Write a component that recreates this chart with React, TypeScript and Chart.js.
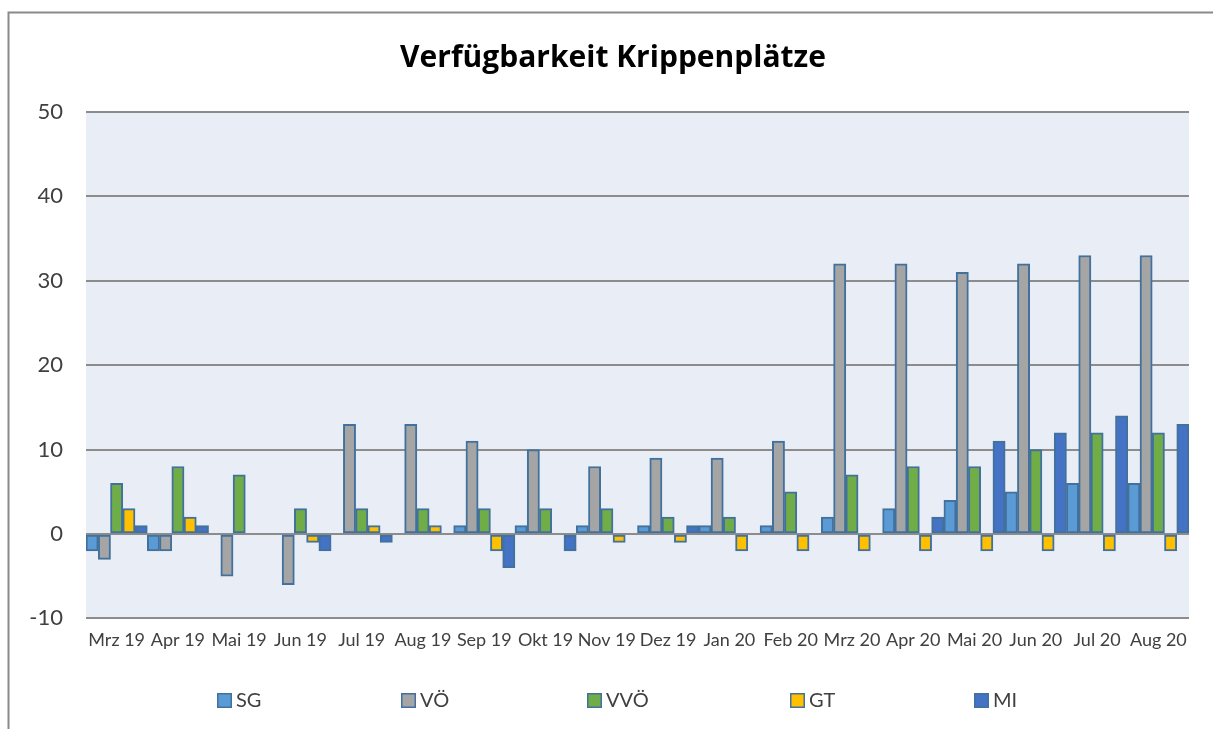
import React, { useEffect, useRef } from "react";
import { Chart, registerables } from "chart.js";

Chart.register(...registerables);

const categories = [
  "Mrz 19", "Apr 19", "Mai 19", "Jun 19", "Jul 19", "Aug 19", "Sep 19", "Okt 19", "Nov 19",
  "Dez 19", "Jan 20", "Feb 20", "Mrz 20", "Apr 20", "Mai 20", "Jun 20", "Jul 20", "Aug 20",
];
const seriesNames = ["SG", "VÖ", "VVÖ", "GT", "MI"];
const sgValues = [-2, -2, 0, 0, 0, 0, 1, 1, 1, 1, 1, 1, 2, 3, 4, 5, 6, 6];
const voValues = [-3, -2, -5, -6, 13, 13, 11, 10, 8, 9, 9, 11, 32, 32, 31, 32, 33, 33];
const vvoValues = [6, 8, 7, 3, 3, 3, 3, 3, 3, 2, 2, 5, 7, 8, 8, 10, 12, 12];
const gtValues = [3, 2, 0, -1, 1, 1, -2, 0, -1, -1, -2, -2, -2, -2, -2, -2, -2, -2];
const miValues = [1, 1, 0, -2, -1, 0, -4, -2, 0, 1, 0, 0, 0, 2, 11, 12, 14, 13];
const seriesColors = ["#5B9BD5", "#A5A5A5", "#70AD47", "#FFC000", "#4472C4"];
const yMin = -10;
const yMax = 50;
const yStep = 10;
const titleText = "Verfügbarkeit Krippenplätze";

const BORDER_COLOR = "#41719C";
const FONT = "Lato";

const frameAndBackground = {
  id: "frameAndBackground",
  beforeDraw(chart: any) {
    const { ctx, chartArea } = chart;
    ctx.save();
    ctx.fillStyle = "#ffffff";
    ctx.fillRect(0, 0, chart.width, chart.height);
    ctx.strokeStyle = "#8a8a8a";
    ctx.lineWidth = 2;
    ctx.beginPath();
    ctx.moveTo(8.5, chart.height + 5);
    ctx.lineTo(8.5, 12.5);
    ctx.lineTo(chart.width + 5, 12.5);
    ctx.stroke();
    ctx.fillStyle = "#E9EEF6";
    ctx.fillRect(chartArea.left, chartArea.top, chartArea.right - chartArea.left, chartArea.bottom - chartArea.top);
    ctx.restore();
  },
};

const chartTitle = {
  id: "chartTitle",
  afterDraw(chart: any) {
    const { ctx } = chart;
    ctx.save();
    ctx.fillStyle = "#000000";
    ctx.font = `bold 30px "Open Sans"`;
    ctx.textAlign = "center";
    ctx.textBaseline = "middle";
    ctx.fillText(titleText, 613, 58);
    ctx.restore();
  },
};

const legendXs = [217, 401, 587, 790, 974];
const customLegend = {
  id: "customLegend",
  afterDraw(chart: any) {
    const { ctx } = chart;
    ctx.save();
    chart.data.datasets.forEach((ds: any, i: number) => {
      const x = legendXs[i];
      const y = 693;
      ctx.fillStyle = ds.backgroundColor;
      ctx.fillRect(x, y, 15, 15);
      ctx.strokeStyle = BORDER_COLOR;
      ctx.lineWidth = 1.5;
      ctx.strokeRect(x + 0.75, y + 0.75, 13.5, 13.5);
      ctx.fillStyle = "#404040";
      ctx.font = `20px ${FONT}`;
      ctx.textBaseline = "middle";
      ctx.textAlign = "left";
      ctx.fillText(ds.label, x + 19, y + 8);
    });
    ctx.restore();
  },
};

export default function App() {
  const canvasRef = useRef<HTMLCanvasElement | null>(null);

  useEffect(() => {
    if (!canvasRef.current) return;
    const allValues = [sgValues, voValues, vvoValues, gtValues, miValues];
    const chart = new Chart(canvasRef.current, {
      type: "bar",
      data: {
        labels: categories,
        datasets: seriesNames.map((name, i) => ({
          label: name,
          data: allValues[i],
          backgroundColor: seriesColors[i],
          borderColor: BORDER_COLOR,
          borderWidth: 2,
          borderSkipped: false,
          categoryPercentage: 1,
          barPercentage: 1,
        })),
      },
      options: {
        responsive: true,
        maintainAspectRatio: false,
        animation: false,
        layout: { padding: { left: 0, right: 24, top: 112, bottom: 67 } },
        plugins: {
          legend: { display: false },
          tooltip: { enabled: false },
          title: { display: false },
        },
        scales: {
          x: {
            grid: { display: false, drawTicks: false },
            border: { display: false },
            ticks: {
              autoSkip: false,
              maxRotation: 0,
              minRotation: 0,
              padding: 11,
              color: "#404040",
              font: { family: FONT, size: 18 },
            },
          },
          y: {
            min: yMin,
            max: yMax,
            grid: { color: "#8c8c8c", lineWidth: 2, drawTicks: false },
            border: { display: false },
            ticks: {
              stepSize: yStep,
              padding: 23,
              color: "#404040",
              font: { family: FONT, size: 22 },
            },
            afterFit: (s: any) => {
              s.width = 86;
            },
          },
        },
      },
      plugins: [frameAndBackground, chartTitle, customLegend],
    } as any);
    return () => chart.destroy();
  }, []);

  return (
    <div style={{ position: "fixed", left: 0, top: 0, width: 1213, height: 729 }}>
      <canvas ref={canvasRef} />
    </div>
  );
}
